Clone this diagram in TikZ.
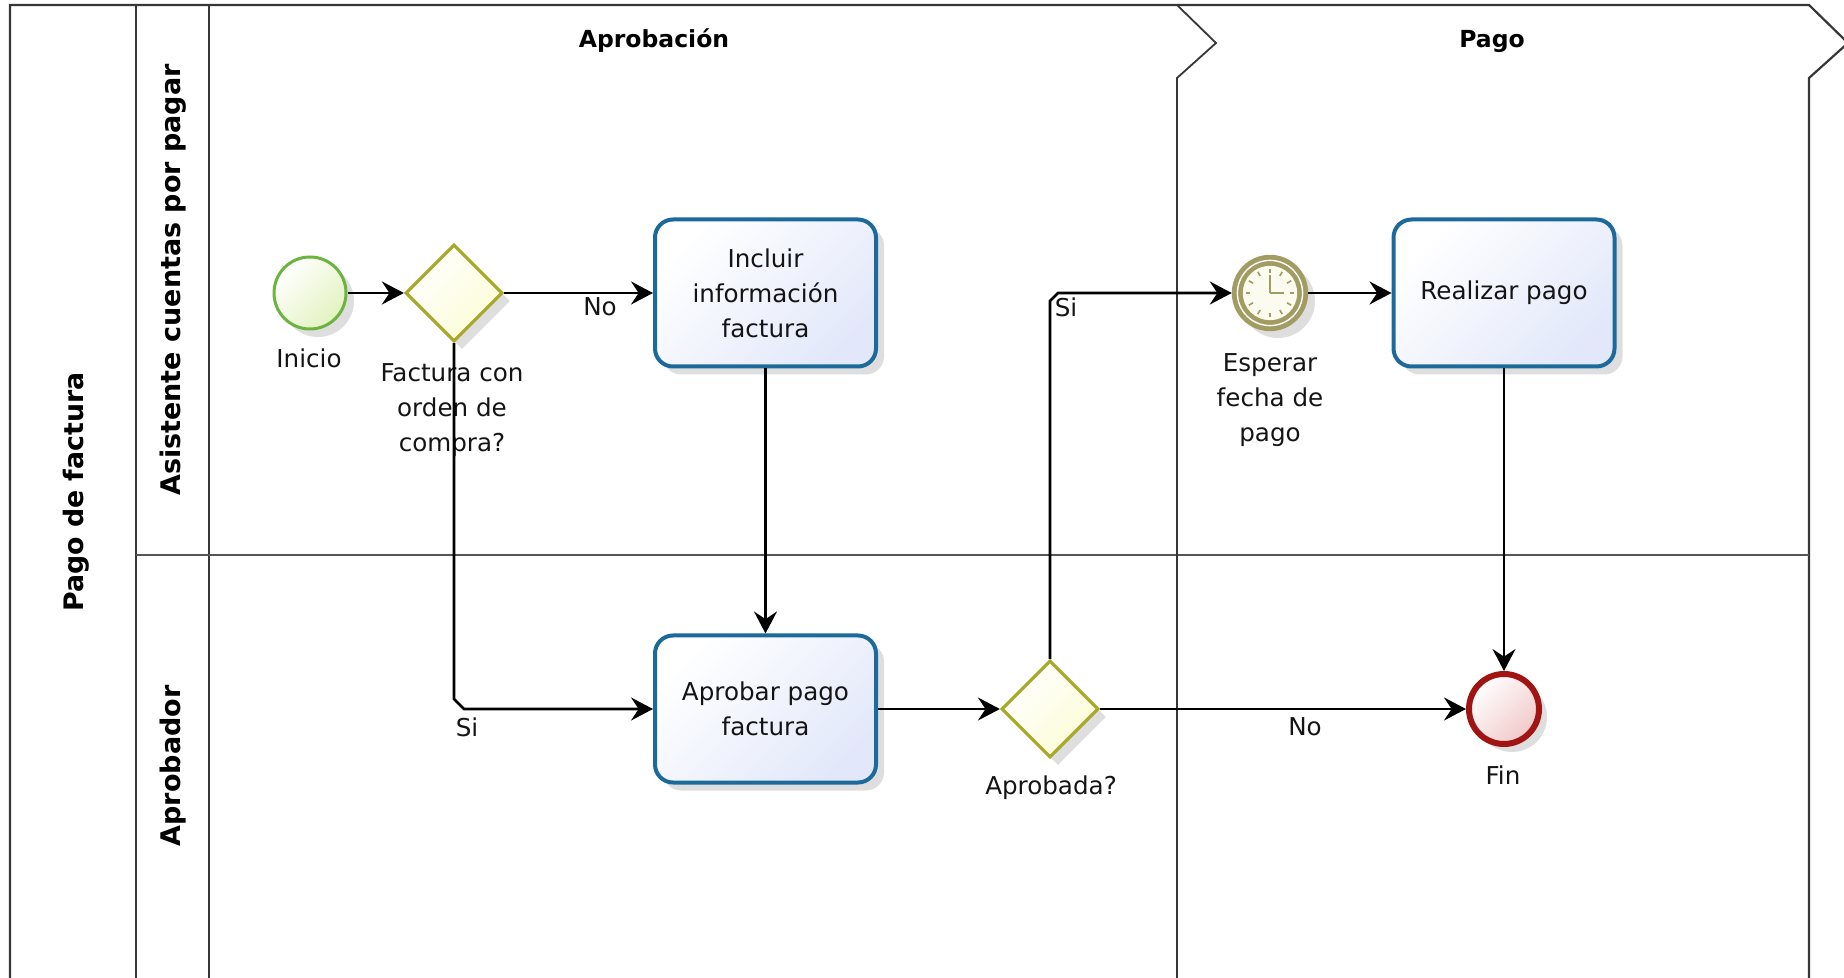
\documentclass[tikz,border=0pt]{standalone}
\usepackage{fontspec}
\setmainfont{DejaVu Sans}
\usetikzlibrary{shapes.geometric,arrows.meta,shadows,calc}
\definecolor{poolline}{HTML}{363636}
\definecolor{laneline}{HTML}{555555}
\definecolor{startline}{HTML}{6DB33F}
\definecolor{startfill}{HTML}{E2F2C0}
\definecolor{gwline}{HTML}{A8A82A}
\definecolor{gwfill}{HTML}{FCFCD6}
\definecolor{taskline}{HTML}{1C6A9B}
\definecolor{taskfill}{HTML}{E2E8FA}
\definecolor{timerline}{HTML}{A29C62}
\definecolor{timerface}{HTML}{FBFBF0}
\definecolor{endline}{HTML}{A01414}
\definecolor{endfill}{HTML}{F1C8C8}
\definecolor{txt}{HTML}{141414}
\begin{document}
\begin{tikzpicture}[x=0.5pt,y=-0.5pt,
  lblfont/.style={font=\fontsize{12.3pt}{17.5pt}\selectfont, text=txt},
  shadowed/.style={drop shadow={shadow xshift=4pt, shadow yshift=-4pt, opacity=0.13, fill=black}},
  startev/.style={circle, draw=startline, line width=1.5pt, minimum size=36pt, inner sep=0pt,
     top color=white, bottom color=startfill, shading angle=45, shadowed},
  endev/.style={circle, draw=endline, line width=3pt, minimum size=35pt, inner sep=0pt,
     top color=white, bottom color=endfill, shading angle=45, shadowed},
  gateway/.style={diamond, aspect=1, draw=gwline, line width=1.6pt, minimum width=48.5pt,
     minimum height=48.5pt, inner sep=0pt, top color=white, bottom color=gwfill, shading angle=45, shadowed},
  task/.style={rectangle, rounded corners=9pt, draw=taskline, line width=2pt, minimum width=110.5pt,
     minimum height=73.5pt, align=center, inner sep=2pt, top color=white, bottom color=taskfill,
     shading angle=45, shadowed, lblfont},
  timerev/.style={circle, draw=timerline, fill=timerline, line width=1.2pt, minimum size=37pt, inner sep=0pt, shadowed},
  flow/.style={draw=black, line width=1.3pt, -{Stealth[length=11pt,width=11.5pt,inset=3.8pt]}},
  lanelbl/.style={font=\fontsize{13.5pt}{16pt}\selectfont\bfseries, text=black, rotate=90},
  phaselbl/.style={font=\fontsize{11.75pt}{14pt}\selectfont\bfseries, text=black, anchor=base},
  txtlbl/.style={lblfont, align=center, inner sep=0pt}
]
\useasboundingbox (0,0) rectangle (1844,978);
% ---------- pool and lanes ----------
\draw[poolline, line width=1.1pt] (10,980) -- (10,5) -- (1809,5) -- (1848,43) -- (1809,78) -- (1809,980);
\draw[poolline, line width=1pt] (136,5) -- (136,980);
\draw[poolline, line width=1pt] (209,5) -- (209,980);
\draw[laneline, line width=1pt] (136,555) -- (1809,555);
\draw[poolline, line width=0.9pt] (1177,5) -- (1216,43) -- (1177,78) -- (1177,980);
% headers
\node[lanelbl, font=\fontsize{13.4pt}{15pt}\selectfont\bfseries] (poolname) at (76,492) {Pago de factura};
\node[lanelbl] (lane1) at (173,280) {Asistente cuentas por pagar};
\node[lanelbl] (lane2) at (173,766) {Aprobador};
\node[phaselbl] (ph1) at (654,48) {Aprobación};
\node[phaselbl] (ph2) at (1492,48) {Pago};
% ---------- flow nodes ----------
\node[startev] (start) at (310,293) {};
\node[gateway] (g1) at (454,293) {};
\node[task] (t1) at (765.5,293) {Incluir\\información\\factura};
\node[task] (t2) at (765.5,709) {Aprobar pago\\factura};
\node[gateway] (g2) at (1050,709) {};
\node[timerev] (timer) at (1270,293) {};
\node[task] (t3) at (1504,293) {Realizar pago};
\node[endev] (fin) at (1504,709) {};
% timer clock face
\draw[white, line width=0.7pt] (timer.center) circle (16.3pt);
\fill[timerface] (timer.center) circle (13.6pt);
\foreach \a in {0,30,...,330}
  \draw[timerline, line width=0.8pt] ($(timer.center)+(\a:9.8pt)$) -- ($(timer.center)+(\a:12.2pt)$);
\draw[timerline, line width=0.9pt] (timer.center) -- ++(0pt,9pt);
\draw[timerline, line width=0.9pt] (timer.center) -- ++(7pt,0pt);
% ---------- text labels ----------
\node[txtlbl] (lstart) at (309,358) {Inicio};
\node[txtlbl, anchor=north] (lg1) at (452,363) {Factura con\\orden de\\compra?};
\node[txtlbl, anchor=north] (ltimer) at (1270,353) {Esperar\\fecha de\\pago};
\node[txtlbl] (lg2) at (1051,788) {Aprobada?};
\node[txtlbl] (lfin) at (1503,775) {Fin};
\node[txtlbl] (lno1) at (600,307) {No};
\node[txtlbl] (lsi1) at (467,727) {Si};
\node[txtlbl] (lsi2) at (1066,307) {Si};
\node[txtlbl] (lno2) at (1305,727) {No};
% ---------- connectors ----------
\draw[flow] (start) -- (g1);
\draw[flow] (g1.east) -- (t1.west);
\draw[flow] (g1.south) -- ($(g1.south |- t2.west)+(0,-10)$) -- ($(g1.south |- t2.west)+(10,0)$) -- (t2.west);
\draw[flow] (t1.south) -- (t2.north);
\draw[flow] (t2.east) -- (g2.west);
\draw[flow] (g2.north) -- ($(g2.north |- timer.west)+(0,8)$) -- ($(g2.north |- timer.west)+(8,0)$) -- (timer.west);
\draw[flow] (timer.east) -- (t3.west);
\draw[flow] (g2.east) -- (fin.west);
\draw[flow] (t3.south) -- (fin.north);
\end{tikzpicture}
\end{document}
